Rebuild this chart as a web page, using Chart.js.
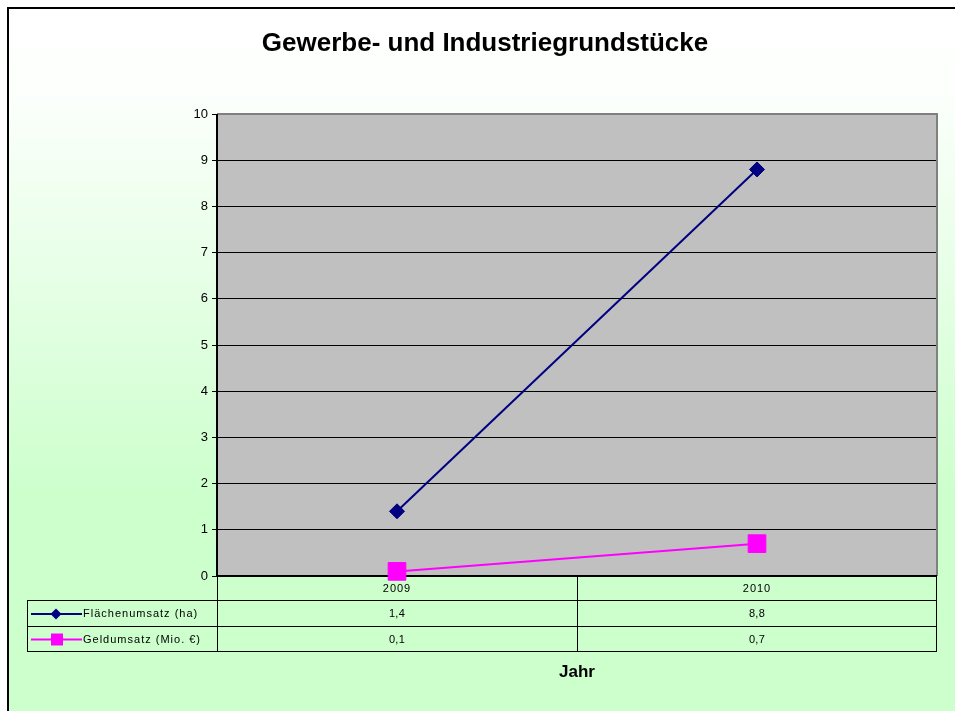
<!DOCTYPE html>
<html>
<head>
<meta charset="utf-8">
<script src="https://cdn.jsdelivr.net/npm/chart.js@4/dist/chart.umd.min.js"></script>
<style>
  html, body { margin: 0; padding: 0; background: #ffffff; }
  #wrap { width: 955px; height: 711px; position: relative; }
</style>
</head>
<body>
<div id="wrap"><canvas id="c" width="955" height="711"></canvas></div>
<script>
const title = 'Gewerbe- und Industriegrundstücke';
const axisTitle = 'Jahr';
const categories = ['2009', '2010'];
const seriesNames = ['Flächenumsatz (ha)', 'Geldumsatz (Mio. €)'];
const flaechenumsatz = [1.4, 8.8];
const geldumsatz = [0.1, 0.7];
const yTicks = [0, 1, 2, 3, 4, 5, 6, 7, 8, 9, 10];

const FONT = '"Liberation Sans", Arial, sans-serif';
const fmt = v => String(v).replace('.', ',');
const setSpacing = (ctx, s) => { try { ctx.letterSpacing = s; } catch (e) {} };

const backgroundPlugin = {
  id: 'bg',
  beforeDraw(chart) {
    const ctx = chart.ctx;
    const W = chart.width, H = chart.height;
    ctx.save();
    ctx.fillStyle = '#ffffff';
    ctx.fillRect(0, 0, W, H);
    const g = ctx.createLinearGradient(0, 8, 0, H);
    g.addColorStop(0, '#ffffff');
    g.addColorStop(0.12, '#fcfffc');
    g.addColorStop(0.7, '#ccffcc');
    g.addColorStop(1, '#ccffcc');
    ctx.fillStyle = g;
    ctx.fillRect(8, 8, W - 8, H - 8);
    ctx.strokeStyle = '#000000';
    ctx.lineWidth = 2;
    ctx.beginPath();
    ctx.moveTo(8, H + 2);
    ctx.lineTo(8, 8);
    ctx.lineTo(W + 2, 8);
    ctx.stroke();
    const a = chart.chartArea;
    ctx.fillStyle = '#c0c0c0';
    ctx.fillRect(a.left, a.top, a.right - a.left, a.bottom - a.top);
    ctx.restore();
  },
  beforeDatasetsDraw(chart) {
    const ctx = chart.ctx;
    const a = chart.chartArea;
    ctx.save();
    ctx.strokeStyle = '#808080';
    ctx.lineWidth = 2;
    ctx.beginPath();
    ctx.moveTo(a.left, a.top);
    ctx.lineTo(a.right, a.top);
    ctx.lineTo(a.right, a.bottom);
    ctx.stroke();
    ctx.strokeStyle = '#000000';
    ctx.lineWidth = 2;
    ctx.beginPath();
    ctx.moveTo(a.left, a.top);
    ctx.lineTo(a.left, a.bottom);
    ctx.moveTo(a.left, a.bottom);
    ctx.lineTo(a.right, a.bottom);
    ctx.stroke();
    ctx.restore();
  },
  afterDraw(chart) {
    const ctx = chart.ctx;
    const a = chart.chartArea;
    const xs = chart.scales.x;
    ctx.save();
    ctx.fillStyle = '#000000';
    ctx.font = 'bold 26px ' + FONT;
    ctx.textAlign = 'center';
    ctx.textBaseline = 'middle';
    ctx.fillText(title, 485, 44);

    const tLeft = 27;
    const r0 = a.bottom, r1 = 600, r2 = 626, r3 = 651;
    ctx.strokeStyle = '#000000';
    ctx.lineWidth = 1;
    ctx.beginPath();
    ctx.moveTo(tLeft, r1 + 0.5); ctx.lineTo(a.right, r1 + 0.5);
    ctx.moveTo(tLeft, r2 + 0.5); ctx.lineTo(a.right, r2 + 0.5);
    ctx.moveTo(tLeft, r3 + 0.5); ctx.lineTo(a.right, r3 + 0.5);
    ctx.moveTo(tLeft + 0.5, r1); ctx.lineTo(tLeft + 0.5, r3 + 1);
    ctx.moveTo(a.left + 0.5, r0); ctx.lineTo(a.left + 0.5, r3 + 1);
    ctx.moveTo(a.right - 0.5, r0); ctx.lineTo(a.right - 0.5, r3 + 1);
    const mid = (xs.getPixelForValue(0) + xs.getPixelForValue(1)) / 2;
    ctx.moveTo(Math.round(mid) + 0.5, r0); ctx.lineTo(Math.round(mid) + 0.5, r3 + 1);
    ctx.stroke();

    ctx.font = '11px ' + FONT;
    ctx.textAlign = 'center';
    ctx.fillStyle = '#000000';
    setSpacing(ctx, '1px');
    categories.forEach((c, i) => {
      const x = xs.getPixelForValue(i);
      ctx.fillText(c, x, (r0 + r1) / 2 + 1);
    });
    const rows = [[r1, r2], [r2, r3]];
    chart.data.datasets.forEach((ds, di) => {
      const yMid = (rows[di][0] + rows[di][1]) / 2 + 1;
      setSpacing(ctx, '0.3px');
      ds.data.forEach((v, i) => {
        const x = xs.getPixelForValue(i);
        ctx.textAlign = 'center';
        ctx.fillStyle = '#000000';
        ctx.fillText(fmt(v), x, yMid);
      });
      ctx.strokeStyle = ds.borderColor;
      ctx.lineWidth = 2;
      ctx.beginPath();
      ctx.moveTo(31, yMid);
      ctx.lineTo(82, yMid);
      ctx.stroke();
      ctx.fillStyle = ds.backgroundColor;
      if (di === 0) {
        ctx.beginPath();
        ctx.moveTo(56, yMid - 5.5);
        ctx.lineTo(61.5, yMid);
        ctx.lineTo(56, yMid + 5.5);
        ctx.lineTo(50.5, yMid);
        ctx.closePath();
        ctx.fill();
      } else {
        ctx.fillRect(51, yMid - 6, 12, 12);
      }
      ctx.fillStyle = '#000000';
      ctx.textAlign = 'left';
      setSpacing(ctx, '1px');
      ctx.fillText(ds.label, 83, yMid);
    });
    setSpacing(ctx, '0px');

    ctx.font = 'bold 17px ' + FONT;
    ctx.textAlign = 'center';
    ctx.fillText(axisTitle, 577, 672);
    ctx.restore();
  }
};

new Chart(document.getElementById('c'), {
  type: 'line',
  data: {
    labels: categories,
    datasets: [
      {
        label: seriesNames[0],
        data: flaechenumsatz,
        borderColor: '#000080',
        backgroundColor: '#000080',
        borderWidth: 2,
        pointStyle: 'rectRot',
        pointRadius: 7.5,
        pointHoverRadius: 7.5,
        pointBorderWidth: 1,
        tension: 0
      },
      {
        label: seriesNames[1],
        data: geldumsatz,
        borderColor: '#ff00ff',
        backgroundColor: '#ff00ff',
        borderWidth: 2,
        pointStyle: 'rect',
        pointRadius: 12.5,
        pointHoverRadius: 12.5,
        pointBorderWidth: 1,
        tension: 0
      }
    ]
  },
  options: {
    responsive: false,
    animation: false,
    clip: false,
    devicePixelRatio: 1,
    layout: { padding: { top: 114, right: 18, left: 0, bottom: 0 } },
    plugins: {
      legend: { display: false },
      title: { display: false },
      tooltip: { enabled: false }
    },
    scales: {
      x: {
        type: 'category',
        offset: true,
        grid: { display: false, drawTicks: false },
        border: { display: false },
        ticks: { display: false },
        afterFit(scale) { scale.height = 711 - 576; }
      },
      y: {
        min: 0,
        max: 10,
        afterBuildTicks(scale) { scale.ticks = yTicks.map(v => ({ value: v })); },
        grid: {
          color: '#000000',
          lineWidth: 1,
          drawTicks: true,
          tickLength: 5,
          tickColor: '#000000'
        },
        border: { display: false },
        ticks: {
          color: '#000000',
          font: { family: FONT, size: 13 },
          padding: 4
        },
        afterFit(scale) { scale.width = 217; }
      }
    }
  },
  plugins: [backgroundPlugin]
});
</script>
</body>
</html>
